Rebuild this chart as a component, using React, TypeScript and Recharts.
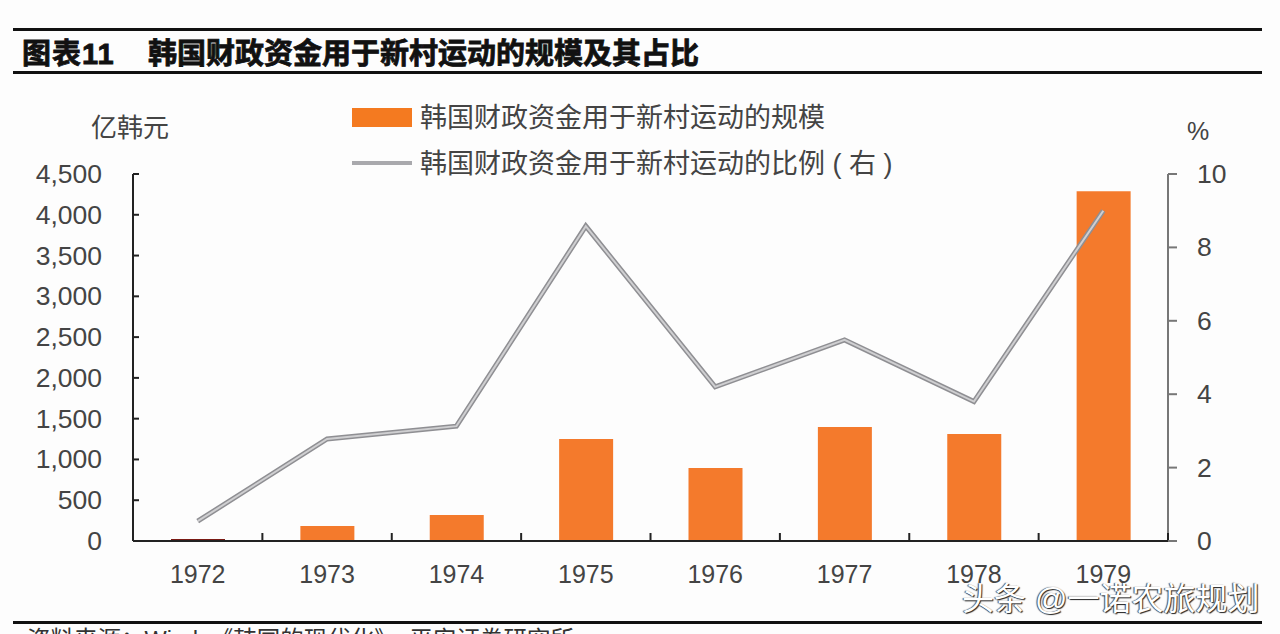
import { ComposedChart, Bar, Line, Cell, XAxis, YAxis } from 'recharts';

const years = ['1972', '1973', '1974', '1975', '1976', '1977', '1978', '1979'];
const scaleValues = [25, 184, 319, 1250, 895, 1398, 1312, 4290];
const ratioValues = [0.54, 2.78, 3.13, 8.58, 4.2, 5.48, 3.8, 9.0];
const leftTicks = [0, 500, 1000, 1500, 2000, 2500, 3000, 3500, 4000, 4500];
const rightTicks = [0, 2, 4, 6, 8, 10];

const chartData = years.map((year, i) => ({
  year,
  scale: scaleValues[i],
  ratio: ratioValues[i],
}));

const FONT = '"Liberation Sans", "Noto Sans CJK SC", sans-serif';
const AXIS = '#222222';
const RIGHT_AXIS = '#777777';
const LABEL = '#444444';
const BAND = 129.4;

const XTick = ({ x, y, payload }: any) => (
  <g>
    <line x1={x + BAND / 2} x2={x + BAND / 2} y1={541} y2={533} stroke={AXIS} strokeWidth={2} />
    <text x={x} y={y + 34} textAnchor="middle" fontSize={25} fill={LABEL} fontFamily={FONT}>
      {payload.value}
    </text>
  </g>
);

const LeftTick = ({ y, payload }: any) => (
  <g>
    <line x1={133} x2={139} y1={y} y2={y} stroke={AXIS} strokeWidth={2} />
    <text x={102} y={y + 9} textAnchor="end" fontSize={26.5} fill={LABEL} fontFamily={FONT}>
      {payload.value.toLocaleString('en-US')}
    </text>
  </g>
);

const RightTick = ({ y, payload }: any) => (
  <g>
    <line x1={1168} x2={1177} y1={y} y2={y} stroke={RIGHT_AXIS} strokeWidth={2} />
    <text x={1197} y={y + 9} textAnchor="start" fontSize={26.5} fill={LABEL} fontFamily={FONT}>
      {payload.value}
    </text>
  </g>
);

const overlay = (left: number, top: number, size: number, text: string, extra = {}) => (
  <div
    style={{
      position: 'absolute',
      left,
      top,
      fontSize: size,
      lineHeight: 1,
      color: LABEL,
      fontFamily: FONT,
      whiteSpace: 'nowrap',
      ...extra,
    }}
  >
    {text}
  </div>
);

const rule = (top: number, height: number) => (
  <div style={{ position: 'absolute', left: 13, width: 1249, top, height, background: '#111' }} />
);

const titleStyle = { fontWeight: 700, color: '#111', WebkitTextStroke: '0.8px #111' };

export default function App() {
  return (
    <div style={{ position: 'absolute', left: 0, top: 0, width: 1280, height: 634, background: '#fdfdfd', overflow: 'hidden' }}>
      {rule(28, 3)}
      {rule(71, 3)}
      {overlay(22, 40, 29, '图表11', { ...titleStyle, letterSpacing: 1 })}
      {overlay(148, 40, 29, '韩国财政资金用于新村运动的规模及其占比', titleStyle)}
      {overlay(91, 115, 26, '亿韩元')}
      {overlay(1187, 119, 25, '%')}

      <div style={{ position: 'absolute', left: 352, top: 108, width: 60, height: 19, background: '#f47a20' }} />
      {overlay(420, 105, 27, '韩国财政资金用于新村运动的规模')}
      <div style={{ position: 'absolute', left: 352, top: 161, width: 60, height: 4, background: '#a9a9ad' }} />
      {overlay(420, 151, 27, '韩国财政资金用于新村运动的比例 ( 右 )')}

      <ComposedChart
        width={1280}
        height={634}
        data={chartData}
        margin={{ top: 174, right: 0, bottom: 53, left: 0 }}
        style={{ position: 'absolute', left: 0, top: 0 }}
      >
        <XAxis dataKey="year" tick={<XTick />} tickLine={false} axisLine={{ stroke: AXIS, strokeWidth: 2 }} height={40} interval={0} />
        <YAxis
          yAxisId="left"
          width={133}
          domain={[0, 4500]}
          ticks={leftTicks}
          tick={<LeftTick />}
          tickLine={false}
          axisLine={{ stroke: AXIS, strokeWidth: 2 }}
          interval={0}
        />
        <YAxis
          yAxisId="right"
          orientation="right"
          width={112}
          domain={[0, 10]}
          ticks={rightTicks}
          tick={<RightTick />}
          tickLine={false}
          axisLine={{ stroke: RIGHT_AXIS, strokeWidth: 2 }}
          interval={0}
        />
        <Bar yAxisId="left" dataKey="scale" barSize={54} fill="#f47a2c" isAnimationActive={false}>
          {chartData.map((d) => (
            <Cell key={d.year} fill={d.year === '1972' ? '#7a1a14' : '#f47a2c'} />
          ))}
        </Bar>
        <Line yAxisId="right" dataKey="ratio" stroke="#8f8f93" strokeWidth={5} dot={false} isAnimationActive={false} />
        <Line yAxisId="right" dataKey="ratio" stroke="#cfcfd1" strokeWidth={2} dot={false} isAnimationActive={false} />
      </ComposedChart>

      {overlay(962, 583, 32, '头条 @一诺农旅规划', {
        color: '#fff',
        textShadow: '1px 1px 1px #222, -1px 0 1px #444',
      })}
      {rule(621, 3)}
      {overlay(27, 629, 23.5, '资料来源：Wind，《韩国的现代化》，平安证券研究所', { color: '#333' })}
    </div>
  );
}
